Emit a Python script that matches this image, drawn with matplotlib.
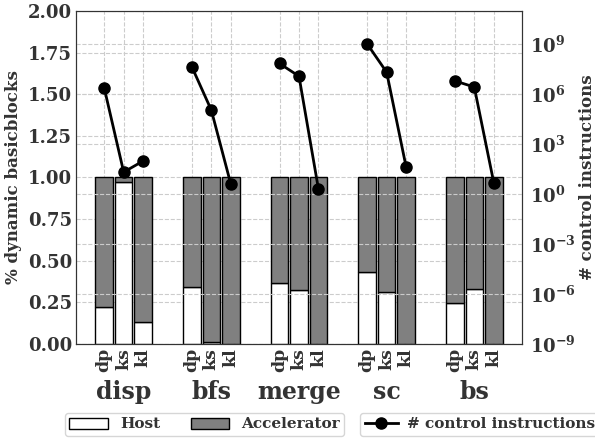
import numpy as np
import matplotlib
matplotlib.use("Agg")
import matplotlib.pyplot as plt
from matplotlib.ticker import FixedLocator, LogFormatterSciNotation, NullLocator
from matplotlib.patches import Patch
from matplotlib.lines import Line2D

plt.rcParams['font.family'] = 'DejaVu Serif'
plt.rcParams['font.weight'] = 'bold'
plt.rcParams['mathtext.fontset'] = 'dejavuserif'
plt.rcParams['mathtext.default'] = 'bf'

groups = ["disp", "bfs", "merge", "sc", "bs"]
variants = ["dp", "ks", "kl"]
host = [[0.223, 0.972, 0.13],
        [0.34, 0.014, 0.0],
        [0.367, 0.323, 0.0],
        [0.43, 0.311, 0.0],
        [0.244, 0.329, 0.0]]
ctrl = [[2.4e6, 21, 98],
        [4.4e7, 1.1e5, 4],
        [7e7, 1.2e7, 2],
        [1.05e9, 2.1e7, 43],
        [6.3e6, 2.7e6, 4.9]]

txtc = '#333333'
fig = plt.figure(figsize=(5.95, 4.38), dpi=100)
ax = fig.add_axes([0.128, 0.2146, 0.749, 0.7604])
ax2 = ax.twinx()

gap = 4.5
xs_all, labels_all = [], []
for i, g in enumerate(groups):
    xs = np.array([i * gap + j for j in range(3)], dtype=float)
    h = np.array(host[i])
    ax.bar(xs, h, width=0.9, color='white', edgecolor='black', linewidth=1, zorder=3)
    ax.bar(xs, 1 - h, bottom=h, width=0.9, color='#808080', edgecolor='black', linewidth=1, zorder=3)
    ax2.plot(xs, ctrl[i], color='black', marker='o', markersize=8, linewidth=2, zorder=5)
    xs_all += list(xs)
    labels_all += variants

ax.set_xlim(-1.44, 4 * gap + 2 + 1.44)
ax.set_ylim(0, 2.0)
ax.set_yticks([0, 0.25, 0.5, 0.75, 1.0, 1.25, 1.5, 1.75, 2.0])
ax.set_xticks(xs_all)
ax.set_xticklabels(labels_all, rotation=90, fontsize=12.5, fontweight='bold', color=txtc)
ax.tick_params(axis='both', length=0, pad=3)
ax.tick_params(axis='y', labelsize=13, labelcolor=txtc)
ax.set_ylabel('% dynamic basicblocks', fontsize=12, fontweight='bold', color=txtc)
ax.grid(True, linestyle='--', color='#cccccc', linewidth=0.8, zorder=0)
ax.set_axisbelow(True)

ax2.set_yscale('log')
ax2.set_ylim(1e-9, 1e11)
ax2.yaxis.set_major_locator(FixedLocator([1e-9, 1e-6, 1e-3, 1e0, 1e3, 1e6, 1e9]))
ax2.yaxis.set_major_formatter(LogFormatterSciNotation())
ax2.yaxis.set_minor_locator(NullLocator())
ax2.tick_params(axis='y', length=0, labelsize=13, labelcolor=txtc, pad=6)
ax2.set_ylabel('# control instructions', fontsize=12, fontweight='bold', color=txtc, labelpad=2)
ax2.grid(True, axis='y', linestyle='--', color='#cccccc', linewidth=0.8)

for sp in list(ax.spines.values()) + list(ax2.spines.values()):
    sp.set_color('#333333')

for i, g in enumerate(groups):
    xc = i * gap + 1
    ax.text(xc, -0.144, g, transform=ax.get_xaxis_transform(), ha='center', va='center',
            fontsize=17, fontweight='bold', color=txtc)

h1 = [Patch(facecolor='white', edgecolor='black', label='Host'),
      Patch(facecolor='#808080', edgecolor='black', label='Accelerator')]
leg1 = fig.legend(handles=h1, loc='center', bbox_to_anchor=(204.5 / 595, 1 - 424.5 / 438), ncol=2,
                  prop={'weight': 'bold', 'size': 11}, frameon=True, columnspacing=2.0,
                  handlelength=2.5, borderpad=0.3)
leg1.get_frame().set_edgecolor('#cccccc')
for t in leg1.get_texts():
    t.set_color(txtc)
h2 = [Line2D([0], [0], color='black', marker='o', markersize=8, linewidth=2, label='# control instructions')]
leg2 = fig.legend(handles=h2, loc='center left', bbox_to_anchor=(357 / 595, 1 - 424.5 / 438),
                  prop={'weight': 'bold', 'size': 11}, frameon=True, handlelength=2.2,
                  handletextpad=0.6, borderpad=0.3, borderaxespad=0.2)
leg2.get_frame().set_edgecolor('#cccccc')
for t in leg2.get_texts():
    t.set_color(txtc)

fig.savefig('out.png', dpi=100)
